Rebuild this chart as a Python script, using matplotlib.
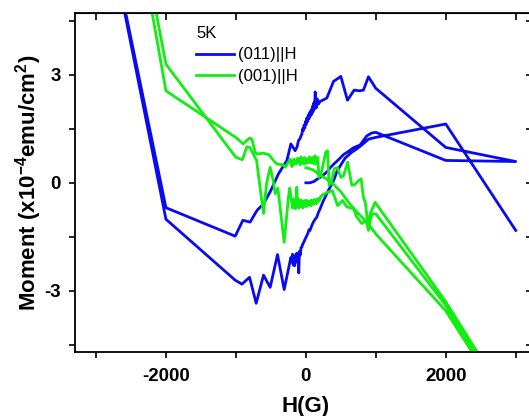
import matplotlib
matplotlib.use('Agg')
import matplotlib.pyplot as plt

plt.rcParams['font.family'] = ['Liberation Sans', 'DejaVu Sans']
plt.rcParams['mathtext.fontset'] = 'custom'
plt.rcParams['mathtext.rm'] = 'Liberation Sans'
plt.rcParams['mathtext.bf'] = 'Liberation Sans:bold'
plt.rcParams['mathtext.it'] = 'Liberation Sans:italic'

# ---------------- data (H in G, moment in 1e-4 emu/cm^2) ----------------
# (011)||H : virgin curve, descending branch, ascending branch
blue_virgin_H = [0, 60, 120, 160, 220, 300, 350, 400, 466, 537, 600, 680, 776, 871, 940, 1000, 2000, 3000]
blue_virgin_M = [0.0, 0.0, 0.04, 0.1, 0.17, 0.3, 0.42, 0.52, 0.64, 0.78, 0.86, 0.97, 1.05, 1.3, 1.38, 1.4, 0.62, 0.59]

blue_down_H = [3000, 2000, 1000, 895, 823, 766, 690, 595, 500, 395, 300, 200, 180, 165, 150, 140, 133, 125,
               115, 105, 95, 85, 75, 65, 55, 45, 35, 25, 15, 5, -5, -15, -25, -35, -45, -57, -70, -85,
               -106, -125, -153, -214, -271, -391, -510, -605, -700, -796, -900, -1010, -2000, -3000]
blue_down_M = [0.59, 0.98, 2.62, 2.94, 2.57, 2.55, 2.57, 2.29, 2.95, 2.81, 2.35, 2.25, 2.18, 2.32, 2.08, 2.40, 2.52, 2.05,
               2.22, 1.98, 2.12, 1.90, 2.02, 1.85, 1.95, 1.78, 1.88, 1.70, 1.80, 1.62, 1.70, 1.52, 1.60, 1.45, 1.50, 1.35, 1.30, 1.22,
               1.17, 1.00, 0.89, 1.08, 0.62, 0.25, -0.25, -0.58, -0.77, -1.09, -1.04, -1.48, -0.69, 8.7]

blue_up_H = [-3000, -2000, -1010, -914, -805, -710, -605, -510, -405, -310, -214, -200, -190, -180, -170, -160,
             -150, -140, -130, -120, -110, -101, -92, -80, -70, -57, -45, -30, -15, 0, 14, 30, 45, 60, 86, 110,
             130, 157, 180, 204, 250, 300, 347, 400, 450, 560, 650, 728, 800, 895, 1000, 2000, 3000]
blue_up_M = [8.7, -1.01, -2.70, -2.81, -2.62, -3.34, -2.56, -2.90, -1.99, -2.96, -2.07, -2.20, -1.98, -2.28, -2.02, -2.30,
             -2.05, -2.20, -1.95, -2.15, -2.05, -2.50, -1.90, -2.00, -1.80, -1.78, -1.70, -1.65, -1.58, -1.52, -1.46, -1.40, -1.30, -1.32, -1.18, -1.08,
             -1.02, -0.95, -0.82, -0.72, -0.50, -0.30, -0.12, 0.08, 0.34, 0.68, 0.84, 0.94, 1.05, 1.21, 1.26, 1.63, -1.32]

# (001)||H : virgin curve, descending branch, ascending branch
green_virgin_H = [0, 100, 200, 300, 400, 500, 633, 750, 847, 1014, 2000, 3000]
green_virgin_M = [0.42, 0.36, 0.22, 0.1, -0.05, -0.25, -0.6, -0.85, -1.04, -1.45, -3.55, -6.6]

green_down_H = [3000, 2000, 1000, 943, 895, 850, 823, 790, 752, 700, 657, 597, 540, 501, 450, 405, 371, 333, 309,
                284, 229, 187, 170, 160, 150, 140, 130, 120, 110, 100, 90, 80, 70, 60, 50, 40, 30, 20, 10, 0,
                -10, -20, -30, -40, -50, -60, -70, -80, -90, -100, -110, -120, -130, -140, -150, -160, -170, -180,
                -190, -200, -224, -294, -330, -415, -463, -530, -605, -700, -724, -771, -805, -897, -1003, -2000, -3000]
green_down_M = [-6.6, -3.4, -0.86, -0.86, -1.27, -0.55, -0.40, 0.11, 0.06, -0.05, -0.07, 0.57, 0.20, 0.15, 0.42, 0.39, 0.06, -0.07, 0.89,
                0.85, 0.34, 0.15, 0.70, 0.52, 0.68, 0.58, 0.75, 0.52, 0.66, 0.60, 0.70, 0.55, 0.64, 0.58, 0.72, 0.56, 0.62, 0.66, 0.54, 0.64,
                0.60, 0.70, 0.52, 0.66, 0.58, 0.62, 0.72, 0.50, 0.60, 0.64, 0.56, 0.68, 0.58, 0.52, 0.62, 0.55, 0.66, 0.50,
                0.58, 0.45, 0.66, 0.43, 0.50, 0.52, 0.62, 0.78, 0.82, 0.80, 0.85, 1.21, 1.24, 1.08, 1.26, 2.55, 13.5]

green_up_H = [-3000, -2000, -1003, -907, -843, -800, -704, -650, -605, -560, -511, -470, -439, -400, -310, -249,
              -230, -200, -190, -180, -170, -160, -150, -140, -130, -120, -110, -100, -90, -80, -70, -60, -50, -40,
              -30, -20, -10, 0, 10, 20, 30, 40, 50, 60, 70, 80, 90, 100, 110, 120, 130, 140, 150, 160, 170, 180,
              190, 200, 229, 300, 380, 453, 525, 586, 681, 728, 800, 862, 895, 919, 990, 2000, 3000]
green_up_M = [13.5, 3.29, 0.71, 0.64, 1.00, 0.98, 0.62, -0.20, -0.85, 0.00, 0.43, 0.10, -0.30, -0.15, -1.65, -0.40,
              -0.15, -0.55, -0.70, -0.45, -0.65, -0.50, -0.72, -0.40, -0.12, -0.60, -0.45, -0.70, -0.52, -0.66, -0.48, -0.62, -0.55, -0.70,
              -0.50, -0.64, -0.58, -0.48, -0.66, -0.54, -0.62, -0.50, -0.60, -0.56, -0.64, -0.48, -0.58, -0.52, -0.60, -0.46, -0.55, -0.50,
              -0.58, -0.45, -0.52, -0.44, -0.50, -0.42, -0.35, -0.27, -0.22, -0.63, -0.49, -0.67, -0.72, -0.95, -1.13, -1.04, -1.32, -0.86,
              -0.54, -3.3, -6.4]

blue_H = blue_virgin_H + blue_down_H[1:] + blue_up_H[1:]
blue_M = blue_virgin_M + blue_down_M[1:] + blue_up_M[1:]
green_H = green_virgin_H + green_down_H[1:] + green_up_H[1:]
green_M = green_virgin_M + green_down_M[1:] + green_up_M[1:]

series_labels = ['(011)||H', '(001)||H']
legend_title = '5K'

x_ticks = [-3000, -2000, -1000, 0, 1000, 2000, 3000]
x_ticklabels = ['', '-2000', '', '0', '', '2000', '']
y_ticks = [-4.5, -3, -1.5, 0, 1.5, 3, 4.5]
y_ticklabels = ['', '-3', '', '0', '', '3', '']

# ---------------- figure ----------------
W, H = 529, 416
fig = plt.figure(figsize=(W / 100, H / 100), dpi=100)
ax = fig.add_axes([75 / W, 1 - 352.3 / H, (536.7 - 75) / W, (352.3 - 13.3) / H])

ax.plot(blue_H, blue_M, color='#0a0af0', lw=2.0, label=series_labels[0])
ax.plot(green_H, green_M, color='#11ee11', lw=2.0, label=series_labels[1])

ax.set_xlim(-3300, 3300)
ax.set_ylim(-4.7, 4.7)

for s in ax.spines.values():
    s.set_linewidth(1.3)

ax.set_xticks(x_ticks)
ax.set_xticklabels(x_ticklabels, fontweight='bold', fontsize=13.5)
ax.set_yticks(y_ticks)
ax.set_yticklabels(y_ticklabels, fontweight='bold', fontsize=13.5)
ax.tick_params(axis='both', direction='out', length=4, width=1.2)
ax.tick_params(axis='x', pad=7)
ax.tick_params(axis='y', pad=6)

secx = ax.secondary_xaxis('top')
secx.set_xticks(x_ticks, labels=[''] * len(x_ticks))
secx.tick_params(direction='in', length=5, width=1.2)
secy = ax.secondary_yaxis('right')
secy.set_yticks(y_ticks, labels=[''] * len(y_ticks))
secy.tick_params(direction='in', length=8, width=1.2)

ax.set_xlabel('H(G)', fontweight='bold', fontsize=16, labelpad=8)
ax.set_ylabel(r'Moment (x10$^{\mathbf{-4}}$emu/cm$^{\mathbf{2}}$)', fontweight='bold', fontsize=16, labelpad=0.5)

leg = ax.legend(title=legend_title, loc='upper left', bbox_to_anchor=(196 / W, 1 - 26.5 / H),
                bbox_transform=fig.transFigure, frameon=False, fontsize=12, title_fontsize=12,
                handlelength=2.26, handletextpad=0.28, borderpad=0, borderaxespad=0,
                labelspacing=0.36, alignment='left')

fig.savefig('out.png', dpi=100)
